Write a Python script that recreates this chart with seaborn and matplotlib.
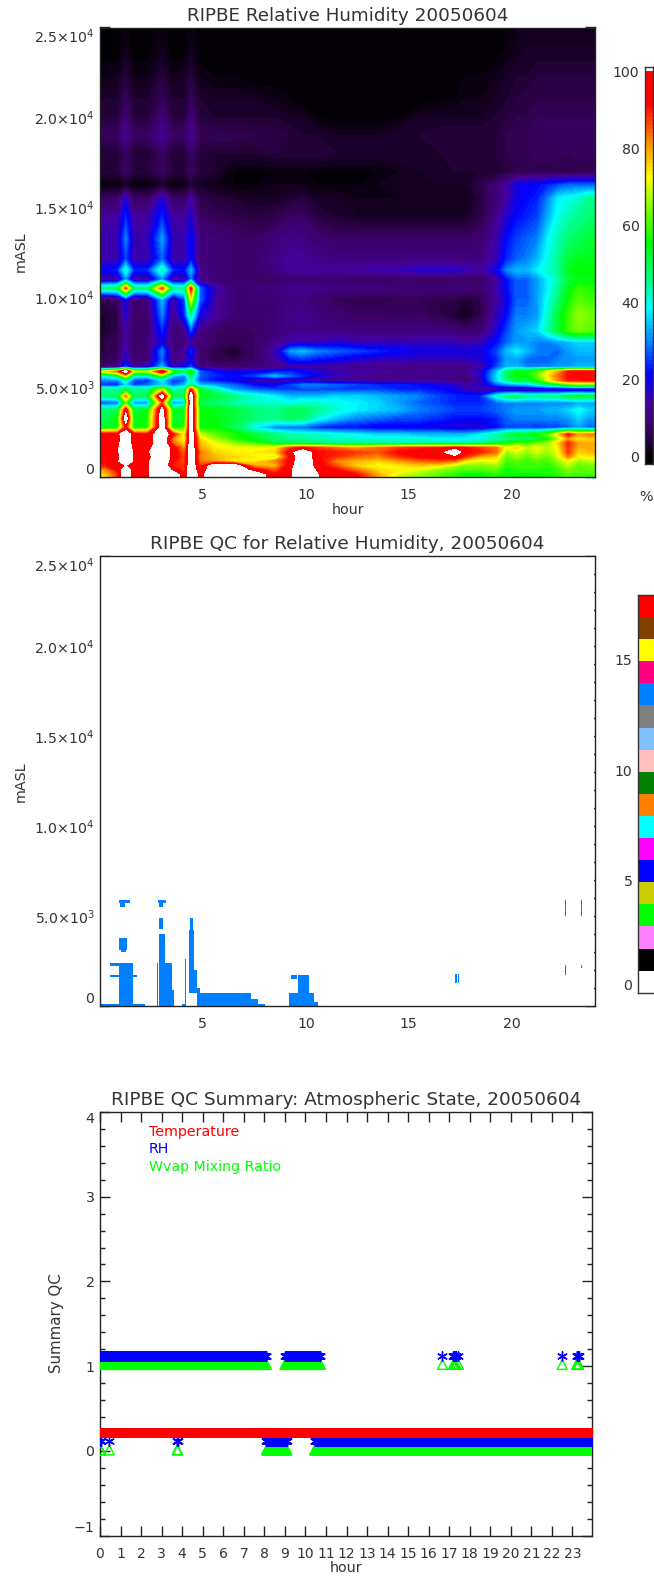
import numpy as np
import pandas as pd
import seaborn as sns
import matplotlib.pyplot as plt
from matplotlib.colors import LinearSegmentedColormap, ListedColormap

# ---- relative humidity field (rows top -> bottom) ----
# row thickness in 250 m layers, column centres in hours
row_span = [8, 6, 4, 4, 4, 4, 4, 2, 4, 4, 6, 3, 2, 2, 2, 3, 4, 3, 2, 2, 2,
            1, 1, 1, 1, 1, 1, 2, 1, 2, 2, 2, 1, 1, 1, 1, 1, 1, 1, 1, 1, 1]
col_hours = [0.25, 0.85, 1.25, 1.65, 2.3, 3.02, 3.55, 4.1, 4.42, 4.85, 5.6, 6.5, 7.5, 8.5, 9.25, 9.85, 10.6,
             11.5, 12.5, 13.5, 14.5, 15.5, 16.5, 17.25, 17.75, 18.5, 19.25, 19.75, 20.25, 20.75, 21.25,
             21.75, 22.25, 22.75, 23.25, 23.75]
rh_rows = [
    [0,0,2,0,0,2,0,0,2,0,0,0,0,0,0,0,0,0,0,0,0,0,0,0,0,0,0,1,2,3,3,3,3,3,3,3],
    [2,2,5,2,2,5,2,3,5,2,1,1,0,0,0,0,0,0,0,0,0,0,0,0,1,1,2,3,4,4,5,5,5,5,5,5],
    [4,4,7,4,4,7,4,4,7,4,3,3,3,2,1,0,0,0,0,0,0,0,1,1,2,2,3,4,5,6,6,6,6,6,6,6],
    [5,5,10,5,5,10,5,5,10,5,4,4,4,4,3,3,1,0,0,0,1,3,3,3,3,3,4,5,6,6,7,7,7,7,7,7],
    [8,8,13,8,8,13,8,8,13,7,7,7,6,6,5,4,4,3,3,3,4,4,5,5,5,5,5,6,7,7,8,8,8,8,8,8],
    [4,4,8,4,4,8,4,4,8,5,4,4,4,5,5,5,5,4,4,4,4,4,4,5,5,5,5,6,7,7,8,8,7,7,8,7],
    [5,5,8,5,5,8,5,5,8,5,4,1,1,1,1,1,1,1,1,1,2,3,4,4,4,4,4,5,6,6,6,6,6,6,6,6],
    [1,1,3,1,1,3,1,2,4,3,2,1,1,2,2,2,1,1,1,2,3,3,3,3,3,6,10,14,20,22,22,24,26,28,28,28],
    [8,8,18,8,8,18,8,8,14,6,5,4,3,3,4,5,3,3,2,2,2,2,2,2,2,5,10,14,20,22,24,30,38,40,42,46],
    [14,14,24,14,14,24,14,14,18,8,7,6,5,6,8,8,5,4,3,3,3,3,3,3,3,6,12,18,22,24,26,33,40,44,46,48],
    [16,16,30,16,16,32,16,16,22,11,10,9,8,10,12,11,9,8,8,8,8,8,8,8,8,9,15,22,26,28,30,38,44,48,50,52],
    [15,15,26,15,15,28,15,15,22,11,10,9,9,12,14,14,12,11,11,11,11,11,11,11,11,11,16,24,28,30,34,40,46,52,54,54],
    [22,24,42,24,24,44,24,22,34,13,10,9,9,11,14,14,14,14,14,16,16,18,18,18,16,14,20,30,34,34,38,42,46,54,56,56],
    [13,14,30,14,14,30,14,14,28,12,10,9,8,8,9,9,9,9,8,8,8,8,8,8,8,8,14,22,28,28,32,38,44,52,54,54],
    [48,50,88,48,48,88,46,46,92,28,16,10,10,11,13,13,12,11,11,11,10,10,10,10,10,9,15,22,28,28,32,38,46,54,60,58],
    [6,8,20,9,10,34,14,26,72,28,14,10,9,10,11,11,9,7,6,6,7,7,6,6,4,6,14,20,28,28,32,40,48,56,62,60],
    [4,6,18,8,9,30,12,24,46,20,14,10,9,10,12,13,11,9,8,8,8,8,6,4,2,6,16,22,30,30,32,42,52,60,66,64],
    [4,6,14,8,9,24,10,12,26,12,8,7,8,10,12,12,12,11,11,11,11,11,11,10,9,10,18,26,32,34,36,44,52,60,64,62],
    [6,7,14,8,10,20,10,11,14,10,8,7,8,12,16,16,16,18,16,16,16,16,16,16,14,16,22,28,32,32,30,30,32,34,36,36],
    [6,7,16,8,10,30,10,14,24,9,6,3,8,16,32,34,30,28,26,24,22,20,20,20,20,20,26,34,38,34,30,30,28,32,34,34],
    [7,8,18,9,11,28,12,14,20,9,7,6,8,14,22,24,22,20,18,16,16,16,16,16,16,18,24,32,32,28,28,28,30,32,32,32],
    [10,12,26,14,16,34,16,20,26,12,10,9,10,12,14,14,14,13,12,12,12,11,11,11,11,14,26,34,34,30,30,30,32,32,34,34],
    [75,85,110,70,68,100,60,50,58,28,22,20,20,22,24,22,18,16,15,14,13,13,13,13,13,18,34,48,55,55,62,72,80,92,94,92],
    [40,50,75,42,40,62,36,30,50,28,24,22,26,34,28,24,20,16,14,13,13,13,13,12,11,18,36,50,56,56,62,74,84,92,92,92],
    [30,30,44,26,24,38,24,28,42,26,22,20,16,15,16,16,14,13,13,12,12,12,12,12,10,16,36,46,52,50,58,70,82,90,90,92],
    [24,24,36,26,28,36,28,34,46,34,32,28,22,20,26,30,30,28,26,24,24,22,20,18,14,18,26,30,32,34,40,46,50,58,62,60],
    [46,46,50,46,46,70,44,46,92,54,44,32,28,26,26,26,26,26,26,26,24,24,22,20,16,14,14,13,12,12,12,12,12,12,12,12],
    [48,50,84,50,50,110,50,50,110,54,52,48,42,38,34,34,34,36,36,34,32,30,26,24,24,24,40,48,50,46,46,48,48,52,54,52],
    [26,28,60,30,30,85,30,34,110,50,48,44,42,42,40,42,42,40,38,36,32,28,26,24,24,24,28,30,30,30,30,30,30,30,32,32],
    [48,50,95,52,54,106,54,54,110,56,54,52,48,46,50,50,46,42,38,36,34,30,28,26,26,26,28,30,32,32,32,34,34,36,40,36],
    [50,55,110,54,56,110,54,54,110,56,55,52,48,46,50,48,40,34,30,28,26,26,24,22,22,22,24,28,30,30,30,30,30,32,36,32],
    [52,55,92,55,58,110,54,60,110,56,56,50,38,30,28,28,24,22,22,20,20,20,20,18,18,18,22,26,26,26,24,26,26,28,32,28],
    [95,96,110,94,92,110,92,72,110,70,62,58,52,48,44,42,42,40,38,36,36,34,34,34,34,38,44,50,54,54,58,62,76,92,80,84],
    [94,92,110,94,92,110,82,70,110,75,66,58,54,48,46,46,44,42,42,40,40,40,38,38,38,40,44,46,48,48,50,56,66,80,74,76],
    [92,96,110,94,92,110,85,75,110,78,72,66,60,52,50,50,48,46,46,46,46,46,46,46,46,48,52,56,60,60,64,66,76,90,80,80],
    [96,98,110,96,96,110,95,80,110,80,74,72,72,74,88,92,88,84,80,84,88,90,90,95,92,88,84,72,76,68,72,68,74,88,78,80],
    [94,98,110,98,98,110,96,84,110,84,76,74,74,76,96,110,92,90,88,86,92,94,96,110,92,90,84,66,70,66,70,66,72,88,76,78],
    [92,96,110,98,96,110,96,86,110,82,78,76,74,68,92,110,92,88,84,82,88,92,94,96,88,78,76,62,66,62,66,62,70,82,72,74],
    [92,98,110,98,98,110,92,86,110,84,80,74,74,82,94,110,94,82,78,76,80,84,86,82,74,70,72,60,62,60,62,60,66,72,66,68],
    [90,96,100,98,98,110,90,88,110,88,110,110,80,78,96,110,94,86,76,72,74,76,74,68,64,64,66,58,60,60,60,58,62,68,62,64],
    [80,92,110,94,98,110,98,88,110,92,110,110,96,86,98,110,98,92,84,76,74,70,64,62,60,60,62,56,58,58,58,58,60,64,62,62],
    [76,88,110,92,98,110,110,92,110,96,110,110,110,92,98,110,100,96,92,80,70,66,62,58,56,56,58,56,56,56,56,56,58,62,60,60],
]
rh_levels = [0, 8, 14, 22, 30, 39, 46, 56, 66, 73, 83, 92, 98, 100]
rh_colors = ["#000000", "#3c0064", "#46009a", "#0000ff", "#0080ff", "#00ffff", "#00ff90",
             "#00ff00", "#90ff00", "#ffff00", "#ff8000", "#ff0000", "#ff0000", "#ff0000"]
rh_tick_values = [0, 20, 40, 60, 80, 100]

# ---- QC for relative humidity: flagged boxes, hours and metres ----
qc_hour_start = [0.91, 0.5, 0.5, 0.91, 0.91, 0.97, 2.73, 2.87, 3.33, 3.5, 2.87, 2.87, 2.79, 2.87,
                 4.34, 4.28, 4.28, 4.14, 4.69, 5.05, 7.37, 0.0, 1.58, 4.0, 7.68,
                 9.2, 9.6, 10.4, 17.27, 17.39, 22.59, 23.33, 22.59, 23.33,
                 9.3, 4.69, 1.6, 0.98]
qc_hour_end = [1.58, 1.6, 1.8, 1.31, 1.47, 1.21, 2.79, 3.33, 3.5, 3.6, 3.17, 3.07, 3.19, 3.07,
               4.5, 4.57, 4.69, 4.2, 5.05, 7.37, 7.68, 0.91, 2.2, 4.15, 8.0,
               10.4, 10.14, 10.6, 17.33, 17.43, 22.63, 23.39, 22.63, 23.37,
               9.55, 4.85, 1.7, 1.25]
qc_low = [0, 2180, 1630, 3100, 5700, 5480, 0, 0, 0, 0, 2450, 4310, 5700, 5520,
          4220, 2000, 700, 0, 0, 0, 0, 0, 0, 0, 0,
          0, 740, 0, 1260, 1260, 4960, 4960, 1720, 2090,
          1480, 700, 0, 2960]
qc_high = [2450, 2370, 1720, 3760, 5890, 5700, 2450, 2450, 2370, 890, 4040, 4870, 5890, 5700,
           4870, 4220, 2000, 2550, 740, 700, 420, 60, 60, 60, 60,
           740, 1720, 240, 1780, 1780, 5890, 5890, 2280, 2280,
           1700, 1000, 60, 3100]
qc_flag = 13
qc_colors = ["#ffffff", "#000000", "#ff80ff", "#00ff00", "#cccc00", "#0000ff", "#ff00ff", "#00ffff",
             "#ff8000", "#008000", "#ffc0c0", "#80c0ff", "#808080", "#0080ff", "#ff0080", "#ffff00",
             "#804000", "#ff0000"]
qc_tick_values = [0, 5, 10, 15]

# ---- summary QC: stretches of the day (hours) where the state was 1 or 0 ----
one_start = [0.0, 9.0, 16.67, 17.2, 17.45, 22.5, 23.2]
one_end = [8.1, 10.75, 16.67, 17.35, 17.45, 22.5, 23.3]
zero_start = [0.0, 0.45, 3.75, 8.1, 10.45]
zero_end = [0.05, 0.45, 3.8, 9.1, 23.95]
series_names = ["Temperature", "RH", "Wvap Mixing Ratio"]
series_colors = ["#ff0000", "#0000ff", "#00ff00"]


def sample_times(starts, ends):
    # the instrument reports every two minutes
    return np.concatenate([np.arange(a, b + 0.01, 1 / 30) for a, b in zip(starts, ends)])


def px_axes(left, top, right, bottom):
    return fig.add_axes([left / W, 1 - bottom / H, (right - left) / W, (bottom - top) / H])


def idl_frame(ax, xmaj, xmin, ymaj, ymin, ylabels):
    for s in ax.spines.values():
        s.set_visible(True)
        s.set_color("#222222")
        s.set_linewidth(1)
    ax.set_xticks(xmaj)
    ax.set_xticks(xmin, minor=True)
    ax.set_yticks(ymaj)
    ax.set_yticks(ymin, minor=True)
    ax.set_yticklabels(ylabels)
    ax.tick_params(which="major", direction="in", length=7, width=1, top=True, right=True,
                   bottom=True, left=True, color="#222222", labelsize=10.2, labelcolor=TXT,
                   labelrotation=0, pad=4)
    ax.tick_params(which="minor", direction="in", length=3.6, width=1, top=True, right=True,
                   bottom=True, left=True, color="#222222")
    ax.tick_params(axis="x", pad=8)
    # the end labels sit inside the axis range
    ax.get_yticklabels()[0].set_va("bottom")
    ax.get_yticklabels()[-1].set_va("top")


def side_bar(ax):
    ax.set_xticks([])
    for s in ax.spines.values():
        s.set_visible(True)
        s.set_color("#333333")
        s.set_linewidth(1)
    ax.tick_params(axis="y", length=0, pad=4, labelsize=10.2, labelcolor=TXT, labelrotation=0)


W, H = 654, 1579
TXT = "#333333"
sns.set_style("white")
plt.rcParams["font.family"] = ["DejaVu Sans"]
plt.rcParams["mathtext.default"] = "regular"
height_labels = ["0", r"5.0$\times$10$^3$", r"1.0$\times$10$^4$", r"1.5$\times$10$^4$",
                 r"2.0$\times$10$^4$", r"2.5$\times$10$^4$"]
fig = plt.figure(figsize=(W / 100, H / 100), dpi=100)

# panel 1: relative humidity
rh_cmap = LinearSegmentedColormap.from_list("rh", [(v / 100, c) for v, c in zip(rh_levels, rh_colors)], N=512)
rh_cmap.set_over("#ffffff")
edges = 25000 - np.r_[0, np.cumsum(row_span)] * 250
row_mid = (edges[:-1] + edges[1:]) / 2
rh = np.pad(np.array(rh_rows, dtype=float)[::-1], 1, mode="edge")
ax1 = px_axes(100, 27.5, 595, 477)
ax1.contourf(np.r_[0, col_hours, 24.05], np.r_[0, row_mid[::-1], 25000], rh,
             levels=np.arange(0, 101, 1), cmap=rh_cmap, extend="max")
ax1.set_xlim(0, 24.05)
ax1.set_ylim(0, 25000)
idl_frame(ax1, [5, 10, 15, 20], np.arange(1, 24), np.arange(0, 25001, 5000), np.arange(0, 25001, 1000), height_labels)
ax1.set_xticklabels(["5", "10", "15", "20"])
ax1.set_title("RIPBE Relative Humidity 20050604", fontsize=13.2, color=TXT, pad=5)
fig.text(348 / W, 1 - 510 / H, "hour", ha="center", va="center", fontsize=10.3, color=TXT)
fig.text(21 / W, 1 - 252 / H, "mASL", ha="center", va="center", rotation=90, fontsize=10.3, color=TXT)

bar1 = px_axes(645, 67, 653, 464)
bar_levels = pd.DataFrame(np.arange(101, -2, -1).reshape(-1, 1))
sns.heatmap(bar_levels, ax=bar1, cmap=rh_cmap, vmin=0, vmax=100, cbar=False, xticklabels=False)
bar1.set_yticks([101 - v + 0.5 for v in rh_tick_values])
bar1.set_yticklabels([str(v) for v in rh_tick_values])
side_bar(bar1)
fig.text(646 / W, 1 - 497 / H, "%", ha="center", va="center", fontsize=10.3, color=TXT)

# panel 2: QC flags, on a 3 minute by 100 m grid
qc_grid = np.zeros((250, 480))
for h0, h1, z0, z1 in zip(qc_hour_start, qc_hour_end, qc_low, qc_high):
    qc_grid[int(round(z0 / 100)):max(int(round(z1 / 100)), int(round(z0 / 100)) + 1),
            int(round(h0 * 20)):max(int(round(h1 * 20)), int(round(h0 * 20)) + 1)] = qc_flag
ax2 = px_axes(100, 556, 595, 1006)
qc_cmap = ListedColormap(qc_colors)
sns.heatmap(pd.DataFrame(qc_grid), ax=ax2, cmap=qc_cmap, vmin=0, vmax=18, cbar=False,
            xticklabels=False, yticklabels=False)
ax2.set_xlim(0, 481)
ax2.set_ylim(0, 250)
idl_frame(ax2, np.array([5, 10, 15, 20]) * 20, np.arange(1, 24) * 20, np.arange(0, 251, 50),
          np.arange(0, 251, 10), height_labels)
ax2.set_xticklabels(["5", "10", "15", "20"])
ax2.set_title("RIPBE QC for Relative Humidity, 20050604", fontsize=13.3, color=TXT, pad=5)
fig.text(21 / W, 1 - 782 / H, "mASL", ha="center", va="center", rotation=90, fontsize=10.3, color=TXT)

bar2 = px_axes(638, 595, 660, 992.7)
sns.heatmap(pd.DataFrame(np.arange(17, -1, -1).reshape(-1, 1)), ax=bar2, cmap=qc_cmap, vmin=0, vmax=18,
            cbar=False, xticklabels=False)
bar2.set_yticks([18 - v for v in qc_tick_values])
bar2.set_yticklabels([str(v) for v in qc_tick_values])
side_bar(bar2)
bar2.get_yticklabels()[0].set_va("bottom")

# panel 3: summary QC
ax3 = px_axes(100, 1112, 592, 1535.5)
all_times = np.arange(0, 23.96, 1 / 30)
ones = sample_times(one_start, one_end)
zeros = sample_times(zero_start, zero_end)
wvap = pd.DataFrame({"hour": np.r_[ones, zeros], "qc": np.r_[np.ones(len(ones)) * 1.02, np.zeros(len(zeros)) + 0.01]})
rhq = pd.DataFrame({"hour": np.r_[ones, zeros], "qc": np.r_[np.ones(len(ones)) * 1.12, np.zeros(len(zeros)) + 0.12]})
temp = pd.DataFrame({"hour": all_times, "qc": np.full(len(all_times), 0.21)})
sns.scatterplot(data=wvap, x="hour", y="qc", ax=ax3, marker="^", s=50, color=series_colors[2], zorder=3)
ax3.collections[-1].set_facecolor("none")
ax3.collections[-1].set_edgecolor(series_colors[2])
ax3.collections[-1].set_linewidth(1)
sns.scatterplot(data=rhq, x="hour", y="qc", ax=ax3, marker=(6, 2, 0), s=48, color=series_colors[1],
                linewidth=1, zorder=4)
sns.scatterplot(data=temp, x="hour", y="qc", ax=ax3, marker="s", s=44, color=series_colors[0],
                linewidth=0, zorder=5)
ax3.set_xlim(0, 23.95)
ax3.set_ylim(-1, 4)
idl_frame(ax3, np.arange(0, 24), [], np.arange(-1, 5), np.arange(-1, 4.01, 0.2),
          ["\u22121", "0", "1", "2", "3", "4"])
ax3.set_xticklabels([str(v) for v in range(24)])
ax3.tick_params(axis="x", labelsize=10)
ax3.set_xlabel("")
ax3.set_ylabel("")
ax3.set_title("RIPBE QC Summary: Atmospheric State, 20050604", fontsize=13.3, color=TXT, pad=5)
fig.text(346 / W, 1 - 1568 / H, "hour", ha="center", va="center", fontsize=10.3, color=TXT)
fig.text(57 / W, 1 - 1323 / H, "Summary QC", ha="center", va="center", rotation=90, fontsize=10.8, color=TXT)
for name, colour, y_px in zip(series_names, series_colors, [1132, 1149, 1167]):
    fig.text(149 / W, 1 - y_px / H, name, ha="left", va="center", fontsize=10.2, color=colour)

fig.savefig("out.png", dpi=100)
